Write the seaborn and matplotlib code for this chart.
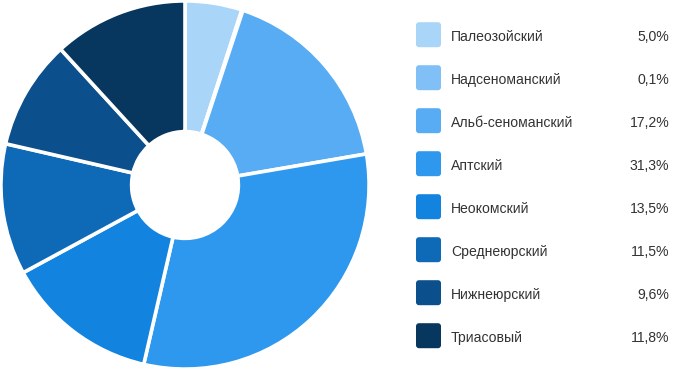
import matplotlib
matplotlib.use("Agg")
import matplotlib.pyplot as plt
from matplotlib.patches import FancyBboxPatch
import seaborn as sns

# data
stages = ["Палеозойский", "Надсеноманский", "Альб-сеноманский", "Аптский",
          "Неокомский", "Среднеюрский", "Нижнеюрский", "Триасовый"]
shares = [5.0, 0.1, 17.2, 31.3, 13.5, 11.5, 9.6, 11.8]
colors = ["#a9d5f9", "#80c0f6", "#57acf3", "#2e98ef",
          "#1383e0", "#0e69b7", "#0b4f8c", "#07365e"]

sns.set_theme(style="white")
plt.rcParams['font.family'] = ['Liberation Sans', 'DejaVu Sans']

W, H = 673, 370
fig = plt.figure(figsize=(W / 100, H / 100), dpi=100)

# donut
ax = fig.add_axes([0, 0, 370 / W, 1])
ax.pie(shares, colors=colors, startangle=90, counterclock=False, radius=1.0,
       wedgeprops=dict(width=0.71, edgecolor="white", linewidth=2.6,
                       joinstyle="round"))
ax.set_xlim(-1.005, 1.005)
ax.set_ylim(-1.005, 1.005)
ax.set_aspect("equal")
ax.axis("off")

# legend drawn in pixel space
lg = fig.add_axes([0, 0, 1, 1])
lg.set_xlim(0, W)
lg.set_ylim(H, 0)
lg.axis("off")
for i, (name, val, c) in enumerate(zip(stages, shares, colors)):
    yc = 34.7 + i * 43
    lg.add_patch(FancyBboxPatch((416, yc - 12.5), 25, 25,
                                boxstyle="round,pad=0,rounding_size=3",
                                facecolor=c, edgecolor="none"))
    lg.text(451, yc + 6.3, name, va="baseline", ha="left", fontsize=10.1,
            color="#333333")
    lg.text(669.5, yc + 6.3, f"{val:.1f}%".replace(".", ","), va="baseline",
            ha="right", fontsize=10.1, color="#333333")

plt.savefig("out.png", dpi=100)
